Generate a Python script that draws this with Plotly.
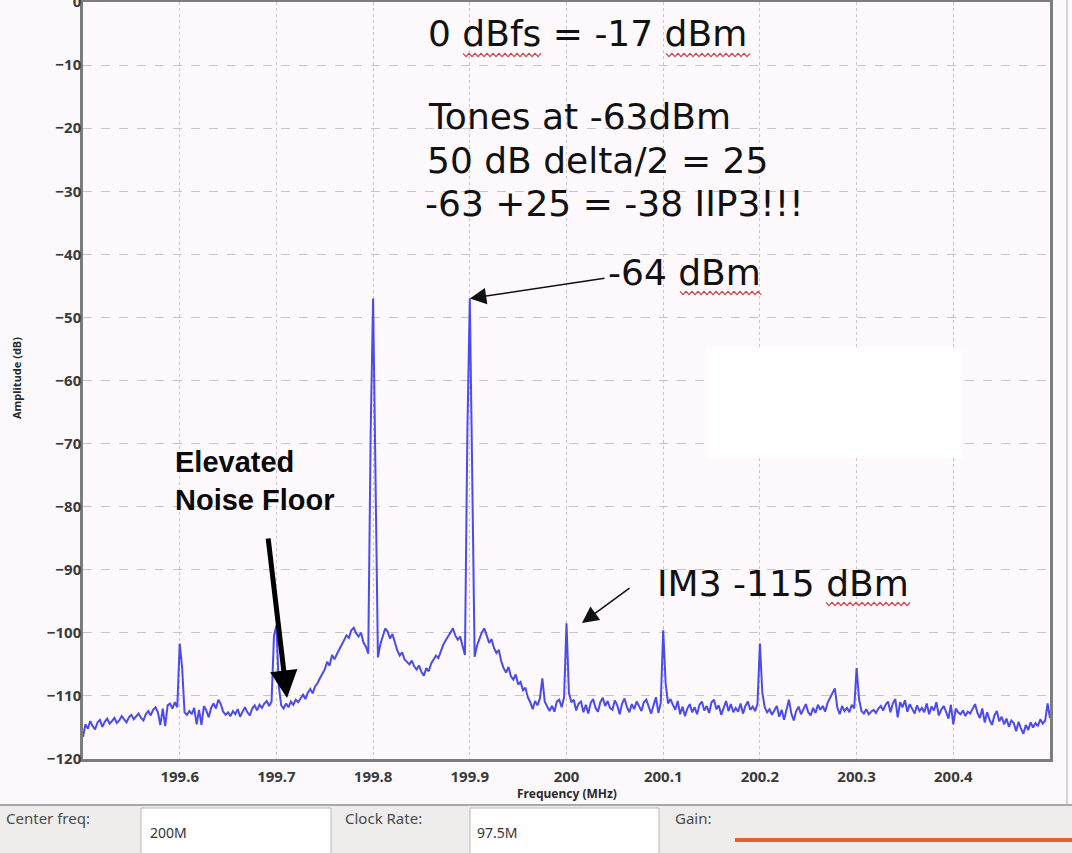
import numpy as np
import plotly.graph_objects as go

# ---- spectrum data -------------------------------------------------------
F_START, F_STOP = 199.5, 200.5          # MHz, displayed span
amplitude_db = [
    -116.5, -114.5, -115.2, -114.0, -114.8, -115.3, -114.2, -113.8, -114.9, -114.1,
    -113.6, -114.4, -114.0, -113.5, -114.3, -113.9, -113.2, -113.8, -114.2, -113.4,
    -113.0, -113.7, -113.3, -112.8, -113.5, -113.9, -112.9, -112.4, -113.1, -112.2,
    -111.8, -112.6, -114.6, -112.0, -114.8, -111.5, -111.2, -112.0, -111.0, -111.8,
    -101.7, -105.5, -112.6, -113.0, -112.4, -112.9, -111.9, -114.5, -112.2, -114.6,
    -111.6, -112.3, -113.4, -111.9, -111.2, -112.0, -110.6, -111.3, -112.5, -113.0,
    -112.6, -113.2, -112.4, -112.9, -112.1, -113.3, -112.5, -111.8, -112.6, -113.1,
    -112.0, -111.5, -112.3, -111.4, -111.9, -111.2, -110.8, -111.6, -110.9, -100.5,
    -98.8, -108.5, -111.5, -112.0, -111.2, -111.8, -110.9, -111.4, -110.6, -111.0,
    -110.4, -109.8, -110.5, -109.5, -108.9, -109.6, -108.5, -108.0, -107.2, -106.5,
    -105.8, -104.6, -105.2, -103.5, -104.2, -103.4, -102.6, -101.9, -101.0, -100.4,
    -100.8, -99.6, -99.2, -100.1, -100.6, -100.0, -101.5, -102.2, -103.3, -68.0,
    -47.0, -75.0, -103.9, -101.8, -100.6, -99.3, -99.8, -100.9, -100.2, -101.6,
    -102.8, -103.6, -103.1, -104.2, -104.6, -105.0, -104.4, -105.3, -105.8, -105.2,
    -106.2, -106.8, -105.6, -106.1, -104.9, -104.3, -103.6, -104.0, -102.8, -101.9,
    -101.2, -100.5, -100.0, -99.3, -100.4, -101.1, -100.6, -102.2, -103.5, -68.0,
    -47.0, -75.0, -103.8, -102.0, -100.8, -99.9, -99.3, -100.4, -101.6, -101.0,
    -102.4, -103.2, -102.7, -104.5, -105.6, -106.3, -105.4, -106.9, -107.4, -106.6,
    -108.2, -107.8, -109.1, -108.7, -110.2, -111.0, -112.1, -110.8, -111.5, -110.4,
    -107.2, -110.9, -111.7, -112.4, -111.6, -112.5, -110.9, -110.6, -111.8, -110.2,
    -98.5, -109.5, -111.0, -110.6, -112.3, -111.2, -110.9, -112.6, -111.4, -112.8,
    -111.1, -110.5, -111.9, -112.5, -111.0, -110.3, -111.6, -110.8, -111.9, -112.2,
    -110.7, -111.5, -112.9, -111.2, -110.4, -111.8, -112.6, -111.3, -112.1, -110.9,
    -111.6, -112.4, -111.0, -110.6, -111.7, -112.8, -111.5, -110.2, -112.7, -111.1,
    -99.6, -108.0, -111.2, -110.5, -111.4, -112.2, -110.8, -112.9, -111.7, -113.2,
    -112.0, -111.3, -112.6, -111.8, -112.9, -111.4, -110.9, -112.3, -111.6, -112.7,
    -111.0, -110.6, -112.1, -111.5, -113.0, -111.8, -110.8, -112.4, -111.3, -112.6,
    -111.9, -112.5, -111.2, -112.8, -111.6, -110.9, -112.2, -111.7, -112.4, -111.3,
    -101.7, -109.5, -111.8, -112.6, -112.1, -113.0, -112.4, -111.6, -113.3, -112.2,
    -113.8, -111.9, -110.6, -112.8, -113.9, -112.4, -111.7, -112.9, -112.0, -111.3,
    -112.6, -113.1, -111.9, -112.7, -111.4, -112.2, -111.6, -112.5, -111.1, -110.4,
    -109.6, -108.8, -111.8, -112.9, -111.6, -112.4, -111.9, -112.6, -111.4, -112.0,
    -105.6, -110.5, -112.4, -112.8, -112.1, -112.9, -112.5, -112.2, -112.7, -112.0,
    -111.6, -112.3, -111.4, -110.9, -112.6, -111.2, -110.5, -113.4, -111.0, -111.8,
    -110.7, -112.5, -111.3, -112.1, -112.8, -111.5, -112.4, -111.9, -112.6, -111.2,
    -112.9, -111.7, -112.3, -111.0, -113.1, -112.2, -111.6, -112.5, -113.6, -111.4,
    -114.5, -112.0, -112.6, -112.9, -112.3, -113.2, -112.5, -112.8, -112.1, -111.3,
    -112.7, -113.5, -112.0, -114.2, -112.6, -113.8, -114.6, -113.1, -112.4, -114.0,
    -113.3, -114.5, -113.6, -114.9, -113.9, -114.3, -115.6, -114.1, -115.2, -116.0,
    -114.6, -115.4, -114.2, -115.0, -114.3, -114.8, -113.7, -114.4, -113.9, -111.2,
    -113.5,
]
assert len(amplitude_db) == 401
# FFT bins are evenly spaced across the span
frequency_mhz = np.linspace(F_START, F_STOP, len(amplitude_db))

x_ticks = [199.6, 199.7, 199.8, 199.9, 200.0, 200.1, 200.2, 200.3, 200.4]
x_tick_labels = ["199.6", "199.7", "199.8", "199.9", "200", "200.1", "200.2", "200.3", "200.4"]
y_ticks = [0, -10, -20, -30, -40, -50, -60, -70, -80, -90, -100, -110, -120]

note_lines = ["0 dBfs = -17 dBm", "Tones at -63dBm", "50 dB delta/2 = 25", "-63 +25 = -38 IIP3!!!"]
tone_label = "-64 dBm"
im3_label = "IM3 -115 dBm"
floor_label = "Elevated<br>Noise Floor"

# ---- page geometry -------------------------------------------------------
W, H = 1072, 853
L, R, T, B = 83, 22, 2, 94
PW, PH = W - L - R, H - T - B
Y0, Y1 = -120, 0


def dx(px):
    """page pixel column -> frequency"""
    return F_START + (px - L) / PW * (F_STOP - F_START)


def dy(py):
    """page pixel row -> amplitude"""
    return Y1 - (py - T) / PH * (Y1 - Y0)


def pxp(px):
    return (px - L) / PW


def pyp(py):
    return 1 - (py - T) / PH


def squiggle(x0, x1, py, amp=1.6, step=3.0):
    """red spell-check style wavy underline as an SVG path in paper coords"""
    pts = []
    x, up = x0, True
    while x <= x1:
        pts.append((pxp(x), pyp(py - amp if up else py + amp)))
        x += step
        up = not up
    path = "M " + " L ".join(f"{a:.5f},{b:.5f}" for a, b in pts)
    return dict(type="path", xref="paper", yref="paper", path=path,
                line=dict(color="#d83a3a", width=1.1), layer="above")


fig = go.Figure()
fig.add_trace(go.Scatter(
    x=frequency_mhz, y=amplitude_db, mode="lines",
    line=dict(color="rgba(55,55,236,0.9)", width=2),
    hoverinfo="skip", showlegend=False,
))

axis_common = dict(
    showline=True, mirror=True, linecolor="#7d7d7d", linewidth=2.5,
    showgrid=True, gridcolor="#c9c6c9", gridwidth=1.3,
    zeroline=False, ticks="", ticklabeloverflow="allow", automargin=False,
    tickfont=dict(family="Noto Sans", size=15, color="#3a3a3a", weight="bold"),
)
fig.update_xaxes(range=[F_START, F_STOP], tickvals=x_ticks, ticktext=x_tick_labels,
                 griddash="dot", ticklabelstandoff=2, **axis_common)
fig.update_yaxes(range=[Y0, Y1], tickvals=y_ticks, griddash="dash",
                 ticklabelstandoff=-4, **axis_common)

ann = []
note_font = dict(family="DejaVu Sans", size=36, color="#111111")
for text, py, px in zip(note_lines, [33, 116, 160, 203], [426, 426, 425, 423]):
    ann.append(dict(x=dx(px), y=dy(py), xref="x", yref="y", text=text, showarrow=False,
                    xanchor="left", yanchor="middle", font=note_font))

ann.append(dict(x=dx(606), y=dy(272), xref="x", yref="y", text=tone_label, showarrow=False,
                xanchor="left", yanchor="middle", font=note_font))
ann.append(dict(x=dx(655), y=dy(583), xref="x", yref="y", text=im3_label, showarrow=False,
                xanchor="left", yanchor="middle", font=note_font))
ann.append(dict(x=dx(173), y=dy(481), xref="x", yref="y", text=floor_label, showarrow=False,
                xanchor="left", yanchor="middle", align="left",
                font=dict(family="Liberation Sans", size=29, color="#0a0a0a", weight="bold")))

# arrows
ann.append(dict(x=199.9, y=-47, ax=dx(606), ay=dy(278), xref="x", yref="y", axref="x", ayref="y",
                text="", showarrow=True, arrowhead=2, arrowsize=2.2, arrowwidth=1.5, arrowcolor="#111"))
ann.append(dict(x=dx(582), y=dy(623), ax=dx(631), ay=dy(587), xref="x", yref="y", axref="x", ayref="y",
                text="", showarrow=True, arrowhead=2, arrowsize=2.2, arrowwidth=1.5, arrowcolor="#111"))
ann.append(dict(x=dx(287), y=dy(698), ax=dx(268), ay=dy(537), xref="x", yref="y", axref="x", ayref="y",
                text="", showarrow=True, arrowhead=2, arrowsize=1.1, arrowwidth=5, arrowcolor="#000"))

# axis titles
ann.append(dict(x=pxp(16), y=pyp(378), xref="paper", yref="paper", text="Amplitude (dB)",
                textangle=-90, showarrow=False, xanchor="center", yanchor="middle",
                font=dict(family="Noto Sans", size=11, color="#2a2a2a", weight="bold")))
ann.append(dict(x=pxp(567), y=pyp(793), xref="paper", yref="paper", text="Frequency (MHz)",
                showarrow=False, xanchor="center", yanchor="middle",
                font=dict(family="Noto Sans", size=12, color="#2a2a2a", weight="bold")))

# control panel labels
panel_font = dict(family="Noto Sans", size=15, color="#4a4a4a")
for text, px in [("Center freq:", 4), ("Clock Rate:", 343), ("Gain:", 673)]:
    ann.append(dict(x=pxp(px), y=pyp(818), xref="paper", yref="paper", text=text, showarrow=False,
                    xanchor="left", yanchor="middle", font=panel_font))
for text, px in [("200M", 148), ("97.5M", 475)]:
    ann.append(dict(x=pxp(px), y=pyp(832), xref="paper", yref="paper", text=text, showarrow=False,
                    xanchor="left", yanchor="middle",
                    font=dict(family="Noto Sans", size=14, color="#333333")))

shapes = [
    # blank panel inside the plot
    dict(type="rect", xref="paper", yref="paper", x0=pxp(707), x1=pxp(962), y0=pyp(458), y1=pyp(348),
         fillcolor="white", line=dict(width=0), layer="above"),
    # window edge on the right
    dict(type="line", xref="paper", yref="paper", x0=pxp(1067), x1=pxp(1067), y0=pyp(0), y1=pyp(804),
         line=dict(color="#c8c8c8", width=1.5)),
    # control panel strip
    dict(type="rect", xref="paper", yref="paper", x0=pxp(0), x1=pxp(W), y0=pyp(H), y1=pyp(805),
         fillcolor="#eeedec", line=dict(width=0), layer="below"),
    dict(type="line", xref="paper", yref="paper", x0=pxp(0), x1=pxp(W), y0=pyp(805), y1=pyp(805),
         line=dict(color="#a9a9a9", width=2)),
    dict(type="rect", xref="paper", yref="paper", x0=pxp(141), x1=pxp(331), y0=pyp(H + 4), y1=pyp(808),
         fillcolor="white", line=dict(color="#b9b9b9", width=1)),
    dict(type="rect", xref="paper", yref="paper", x0=pxp(470), x1=pxp(659), y0=pyp(H + 4), y1=pyp(808),
         fillcolor="white", line=dict(color="#b9b9b9", width=1)),
    dict(type="line", xref="paper", yref="paper", x0=pxp(735), x1=pxp(W + 5), y0=pyp(840), y1=pyp(840),
         line=dict(color="#e2632f", width=4)),
    # spell-check underlines
    squiggle(463, 543, 55),
    squiggle(666, 750, 55),
    squiggle(680, 763, 293),
    squiggle(826, 910, 604),
]

fig.update_layout(
    width=W, height=H, autosize=False,
    margin=dict(l=L, r=R, t=T, b=B),
    paper_bgcolor="#fcf9fc", plot_bgcolor="#fdf9fd",
    annotations=ann, shapes=shapes, showlegend=False,
)

fig.write_html("out.html", config={"displayModeBar": False})
